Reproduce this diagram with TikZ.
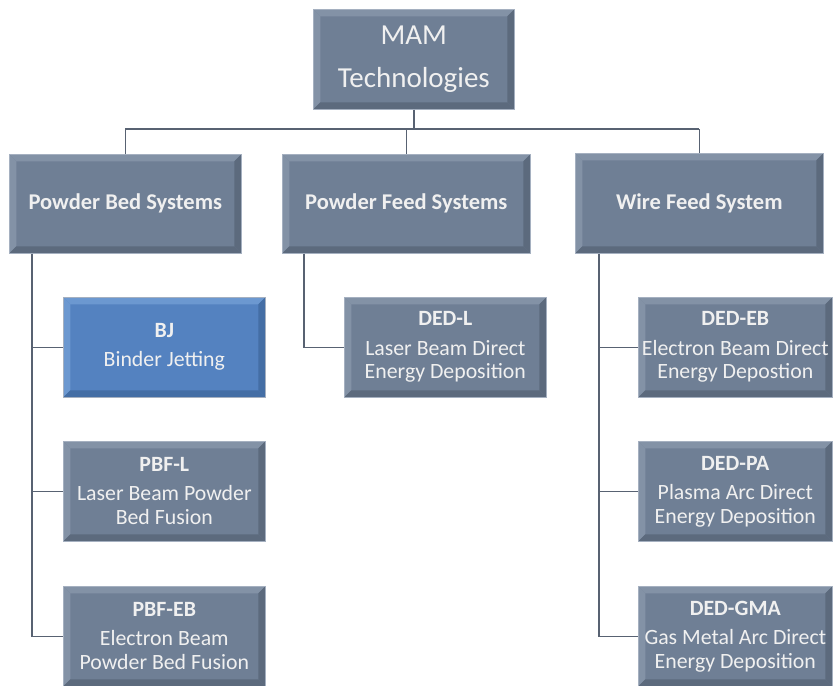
\documentclass[tikz,border=0pt]{standalone}
\usepackage{fontspec}
\setmainfont{Carlito}
\definecolor{boxc}{RGB}{111,127,149}
\definecolor{boxl}{RGB}{131,146,166}
\definecolor{boxd}{RGB}{92,106,125}
\definecolor{boxedge}{RGB}{165,176,192}
\definecolor{bjc}{RGB}{84,130,192}
\definecolor{bjl}{RGB}{108,152,208}
\definecolor{bjd}{RGB}{68,110,165}
\definecolor{txt}{RGB}{240,240,240}
\definecolor{linec}{RGB}{88,98,114}
\newcommand\mybevel[2]{%
\fill[#1] (path picture bounding box.north west) -- (path picture bounding box.north east) -- ([xshift=-7pt,yshift=-7pt]path picture bounding box.north east) -- ([xshift=7pt,yshift=-7pt]path picture bounding box.north west) -- cycle;
\fill[#1] (path picture bounding box.north west) -- ([xshift=7pt,yshift=-7pt]path picture bounding box.north west) -- ([xshift=7pt,yshift=7pt]path picture bounding box.south west) -- (path picture bounding box.south west) -- cycle;
\fill[#2] (path picture bounding box.south west) -- (path picture bounding box.south east) -- ([xshift=-7pt,yshift=7pt]path picture bounding box.south east) -- ([xshift=7pt,yshift=7pt]path picture bounding box.south west) -- cycle;
\fill[#2] (path picture bounding box.north east) -- ([xshift=-7pt,yshift=-7pt]path picture bounding box.north east) -- ([xshift=-7pt,yshift=7pt]path picture bounding box.south east) -- (path picture bounding box.south east) -- cycle;
}
\tikzset{
  box/.style={rectangle, fill=boxc, draw=boxedge, line width=0.6pt, text=txt,
    inner sep=0pt, align=center, anchor=north west,
    minimum width=202pt, minimum height=100pt,
    font=\fontsize{21.8}{24}\selectfont, path picture={\mybevel{boxl}{boxd}}},
  bluebox/.style={box, fill=bjc, path picture={\mybevel{bjl}{bjd}}},
  headbox/.style={box, minimum height=99pt, font=\bfseries\fontsize{22.5}{24}\selectfont},
  topbox/.style={box, font=\fontsize{29}{43}\selectfont},
  conn/.style={draw=linec, line width=1.5pt}
}
\begin{document}
\begin{tikzpicture}[x=1pt,y=-1pt]
\useasboundingbox (0,0) rectangle (834,685);
\fill[white] (0,0) rectangle (834,685);
\coordinate (bus) at (0,129);
% nodes
\node[topbox, minimum width=201pt] (top) at (313,9) {MAM\\Technologies};
\node[headbox, minimum width=232pt] (pbs) at (9,154) {Powder Bed Systems};
\node[headbox, minimum width=248pt] (pfs) at (282,154) {Powder Feed Systems};
\node[headbox, minimum width=248pt, minimum height=100pt] (wfs) at (575,153) {Wire Feed System};
\node[bluebox] (bj) at (63,297) {{\bfseries BJ}\\[5pt]Binder Jetting};
\node[box] (pbfl) at (63,441) {{\bfseries PBF-L}\\[5pt]Laser Beam Powder\\Bed Fusion};
\node[box] (pbfeb) at (63,586) {{\bfseries PBF-EB}\\[5pt]Electron Beam\\Powder Bed Fusion};
\node[box] (dedl) at (344,297) {{\bfseries DED-L}\\[5pt]Laser Beam Direct\\Energy Deposition};
\node[box, minimum width=194pt] (dedeb) at (638,297) {{\bfseries DED-EB}\\[5pt]Electron Beam Direct\\Energy Depostion};
\node[box, minimum width=194pt] (dedpa) at (638,441) {{\bfseries DED-PA}\\[5pt]Plasma Arc Direct\\Energy Deposition};
\node[box, minimum width=194pt] (dedgma) at (638,586) {{\bfseries DED-GMA}\\[5pt]Gas Metal Arc Direct\\Energy Deposition};
% trunks
\coordinate (lt) at ([xshift=23pt]pbs.south west);
\coordinate (mt) at ([xshift=22pt]pfs.south west);
\coordinate (rt) at ([xshift=24pt]wfs.south west);
% connectors
\draw[conn] (top.south) -- (top.south |- bus);
\draw[conn] (pbs.north |- bus) -- (wfs.north |- bus);
\draw[conn] (pbs.north) -- (pbs.north |- bus);
\draw[conn] (pfs.north) -- (pfs.north |- bus);
\draw[conn] (wfs.north) -- (wfs.north |- bus);
\draw[conn] (lt) |- (pbfeb.west);
\draw[conn] (bj.west) -- (bj.west -| lt);
\draw[conn] (pbfl.west) -- (pbfl.west -| lt);
\draw[conn] (mt) |- (dedl.west);
\draw[conn] (rt) |- (dedgma.west);
\draw[conn] (dedeb.west) -- (dedeb.west -| rt);
\draw[conn] (dedpa.west) -- (dedpa.west -| rt);
\end{tikzpicture}
\end{document}
